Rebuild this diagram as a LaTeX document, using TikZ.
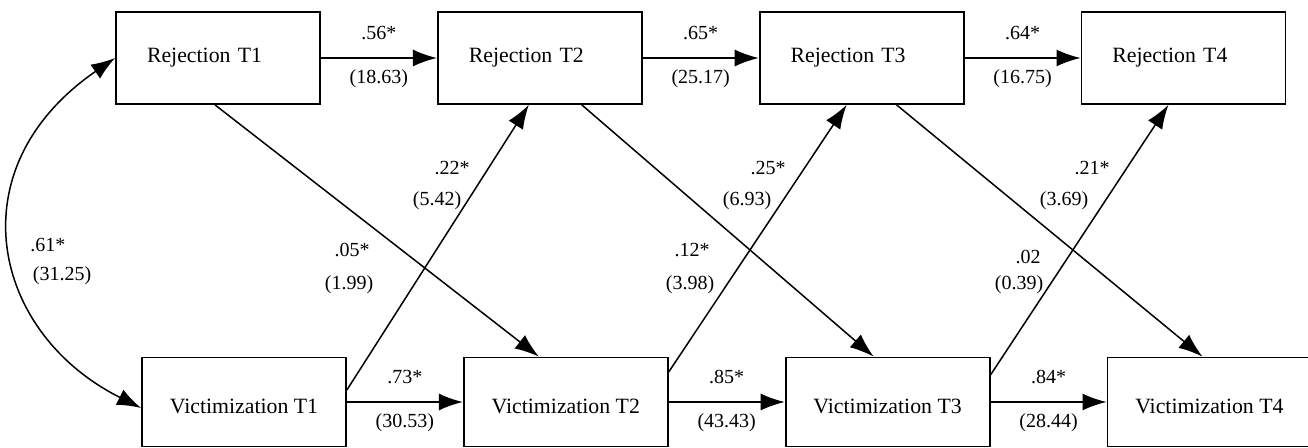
\documentclass[tikz,border=0pt]{standalone}
\usepackage{fontspec}
\setmainfont{Liberation Serif}
\usetikzlibrary{positioning,arrows.meta}

\begin{document}
\begin{tikzpicture}[
    x                 = 0.5pt,
    y                 = -0.5pt,
    node distance     = 58pt,
    every node/.style = {font=\fontsize{10}{12}\selectfont},
    measure/.style    = {draw, line width=0.9pt, minimum width=102pt, minimum height=46pt,
                         inner sep=0pt, font=\fontsize{10.9}{13}\selectfont},
    rej/.style        = {measure, inner xsep=15.5pt, text width=71pt, align=left},
    vic/.style        = {measure, minimum height=44.5pt, text height=12pt, text depth=0pt},
    link/.style       = {draw, line width=0.75pt, -{Latex[length=12pt,width=8.5pt]}},
    both link/.style  = {draw, line width=0.75pt, {Latex[length=12pt,width=8.5pt]}-{Latex[length=12pt,width=8.5pt]}},
    coef above/.style = {midway, yshift=12.5pt},
    coef below/.style = {midway, yshift=-10.5pt}
  ]
\useasboundingbox (0,0) rectangle (1308,448);

% rejection row
\node[rej] (R1) at (218,58) {Rejection T1};
\node[rej, right=of R1] (R2) {Rejection T2};
\node[rej, right=of R2] (R3) {Rejection T3};
\node[rej, right=of R3] (R4) {Rejection T4};

% victimization row
\node[vic] (V1) at (244,402) {Victimization T1};
\node[vic, right=of V1] (V2) {Victimization T2};
\node[vic, right=of V2] (V3) {Victimization T3};
\node[vic, right=of V3] (V4) {Victimization T4};

% stability paths
\draw[link] (R1) -- node[coef above] (s12a) {.56*} node[coef below] (s12b) {(18.63)} (R2);
\draw[link] (R2) -- node[coef above] (s23a) {.65*} node[coef below] (s23b) {(25.17)} (R3);
\draw[link] (R3) -- node[coef above] (s34a) {.64*} node[coef below] (s34b) {(16.75)} (R4);
\draw[link] (V1) -- node[coef above] (v12a) {.73*} node[coef below] (v12b) {(30.53)} (V2);
\draw[link] (V2) -- node[coef above] (v23a) {.85*} node[coef below] (v23b) {(43.43)} (V3);
\draw[link] (V3) -- node[coef above] (v34a) {.84*} node[coef below] (v34b) {(28.44)} (V4);

% cross-lagged paths
\draw[link] ([xshift=-1.5pt]R1.south) -- ([xshift=-13.5pt]V2.north);
\draw[link] ([yshift=6pt]V1.east) -- ([xshift=-5.5pt]R2.south);
\draw[link] ([xshift=21pt]R2.south) -- ([xshift=-7pt]V3.north);
\draw[link] ([yshift=15pt]V2.east) -- ([xshift=-7.5pt]R3.south);
\draw[link] ([xshift=17.5pt]R3.south) -- ([xshift=-3.5pt]V4.north);
\draw[link] ([yshift=13.5pt]V3.east) -- ([xshift=-7.5pt]R4.south);

\node (x12a) at (452,168) {.22*};
\node (x12b) at (437,201) {(5.42)};
\node (y12a) at (352,250) {.05*};
\node (y12b) at (349,285) {(1.99)};
\node (x23a) at (768,168) {.25*};
\node (x23b) at (747,201) {(6.93)};
\node (y23a) at (692,250) {.12*};
\node (y23b) at (690,285) {(3.98)};
\node (x34a) at (1092,168) {.21*};
\node (x34b) at (1064,201) {(3.69)};
\node (y34a) at (1028,257) {.02};
\node (y34b) at (1019,285) {(0.39)};

% correlation at T1
\draw[both link] (R1.west) .. controls +(-160,110) and +(-150,-75) .. ([yshift=-3pt]V1.west);
\node (r11a) at (48,245) {.61*};
\node (r11b) at (62,276) {(31.25)};

\end{tikzpicture}
\end{document}
